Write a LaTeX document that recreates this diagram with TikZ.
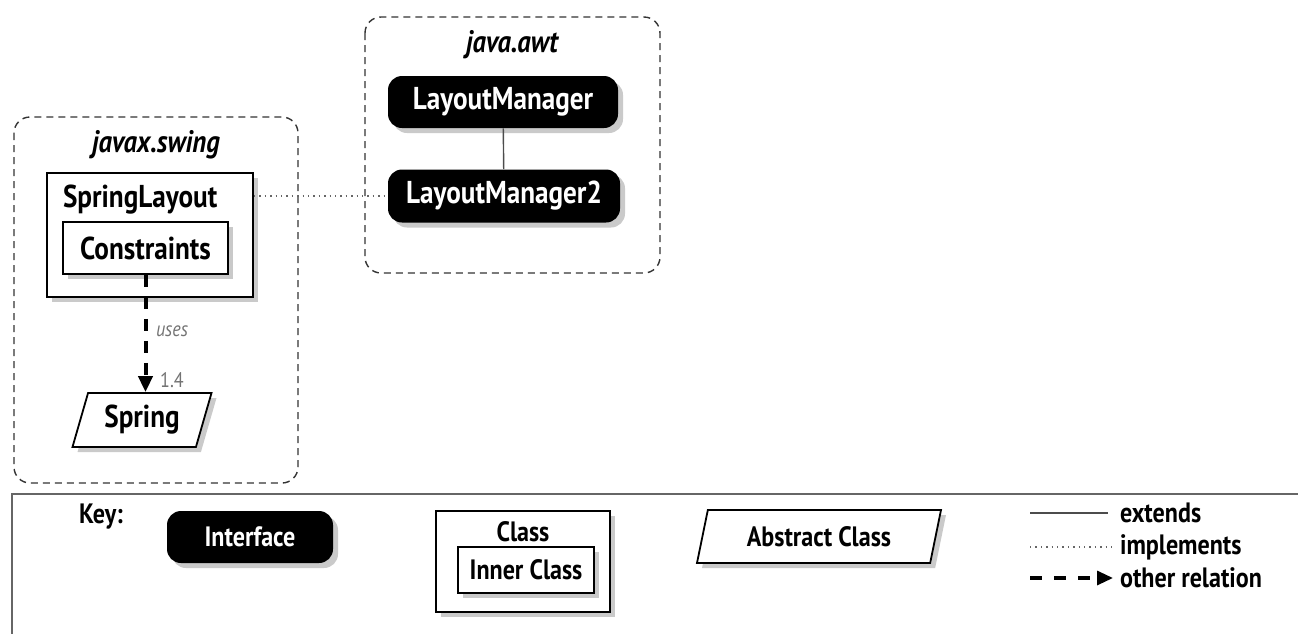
\documentclass[tikz,border=0pt]{standalone}
\usepackage{fontspec}
\setmainfont{PT Sans}[FakeStretch=0.86]
\usetikzlibrary{shapes.geometric,shadows,arrows.meta}

\begin{document}
\begin{tikzpicture}[x=0.5pt,y=-0.5pt,
  shade/.style={drop shadow={shadow xshift=2.5pt,shadow yshift=-2.5pt,fill=gray!70,opacity=0.6}},
  big/.style={font=\bfseries\fontsize{15.8}{18}\selectfont},
  small/.style={font=\bfseries\fontsize{14}{16}\selectfont},
  iface/.style={fill=black,text=white,rounded corners=7pt,inner sep=0pt,shade},
  cls/.style={draw,fill=white,line width=0.9pt,inner sep=0pt,shade},
  abscls/.style={draw,fill=white,line width=0.9pt,trapezium,trapezium stretches body,
    trapezium left angle=62,trapezium right angle=118,inner sep=0pt,shade},
  pkg/.style={draw=black!80,line width=0.7pt,dash pattern=on 3.5pt off 2.5pt,rounded corners=8pt},
  pkgtitle/.style={font=\bfseries\itshape\fontsize{15.5}{18}\selectfont},
  note/.style={text=black!55,font=\fontsize{10.5}{12}\selectfont},
  ext/.style={draw=black!70,line width=0.7pt},
  impl/.style={draw=black!60,line width=0.7pt,dotted},
  rel/.style={draw,line width=2pt,dash pattern=on 6pt off 5pt,-{Triangle[length=8pt,width=7pt]}}]
  \useasboundingbox (0,0) rectangle (1298,633);

  % package javax.swing
  \draw[pkg] (14,117) rectangle (298,483);
  \node[pkgtitle] (swing) at (156,145) {javax.swing};
  \node[cls,minimum width=103pt,minimum height=62pt] (slbox) at (150,235) {};
  \node[big,anchor=west] (sl) at (56,200) {SpringLayout};
  \node[cls,big,minimum width=82.5pt,minimum height=26pt] (cons) at (145.5,248) {Constraints};
  \node[abscls,big,minimum width=69.5pt,minimum height=27pt] (spring) at (142,420) {Spring};
  \draw[rel] (cons.south) -- (cons.south |- spring.north);
  \node[note,font=\itshape\fontsize{10.5}{12}\selectfont] (uses) at (172,331) {uses};
  \node[note] (ver) at (172,380) {1.4};

  % package java.awt
  \draw[pkg] (365,17) rectangle (660,273);
  \node[pkgtitle] (awt) at (512,45) {java.awt};
  \node[iface,big,minimum width=115pt,minimum height=26pt] (lm) at (503,102) {LayoutManager};
  \node[iface,big,minimum width=116pt,minimum height=26.5pt] (lm2) at (504,196) {LayoutManager2};
  \draw[ext] (lm) -- (lm2);
  \draw[impl] (slbox.east |- lm2) -- (lm2.west);

  % key
  \draw[draw=black!60,line width=1.4pt] (12,640) -- (12,494) -- (1300,494);
  \node[small] (key) at (101,517) {Key:};
  \node[iface,small,minimum width=83pt,minimum height=26pt] (kiface) at (250,537) {Interface};
  \node[cls,minimum width=87pt,minimum height=50.5pt] (kclass) at (523,561.5) {};
  \node[small] (kclasstxt) at (523,532) {Class};
  \node[cls,small,minimum width=68pt,minimum height=23pt] (kinner) at (526,570) {Inner Class};
  \node[abscls,small,minimum width=122pt,minimum height=26.5pt] (kabs) at (819,536.5) {Abstract Class};
  \node[small,anchor=west] (kext) at (1113,513) {extends};
  \node[small,anchor=west] (kimpl) at (1113,547) {implements};
  \node[small,anchor=west] (krel) at (1113,578) {other relation};
  \coordinate (e0) at (1030,513);
  \coordinate (i0) at (1030,547);
  \coordinate (r0) at (1030,578);
  \draw[ext] (e0) -- (1108,513);
  \draw[impl] (i0) -- (1112,547);
  \draw[rel,line width=1.6pt,dash pattern=on 6pt off 6pt] (r0) -- (krel.west);
\end{tikzpicture}
\end{document}
